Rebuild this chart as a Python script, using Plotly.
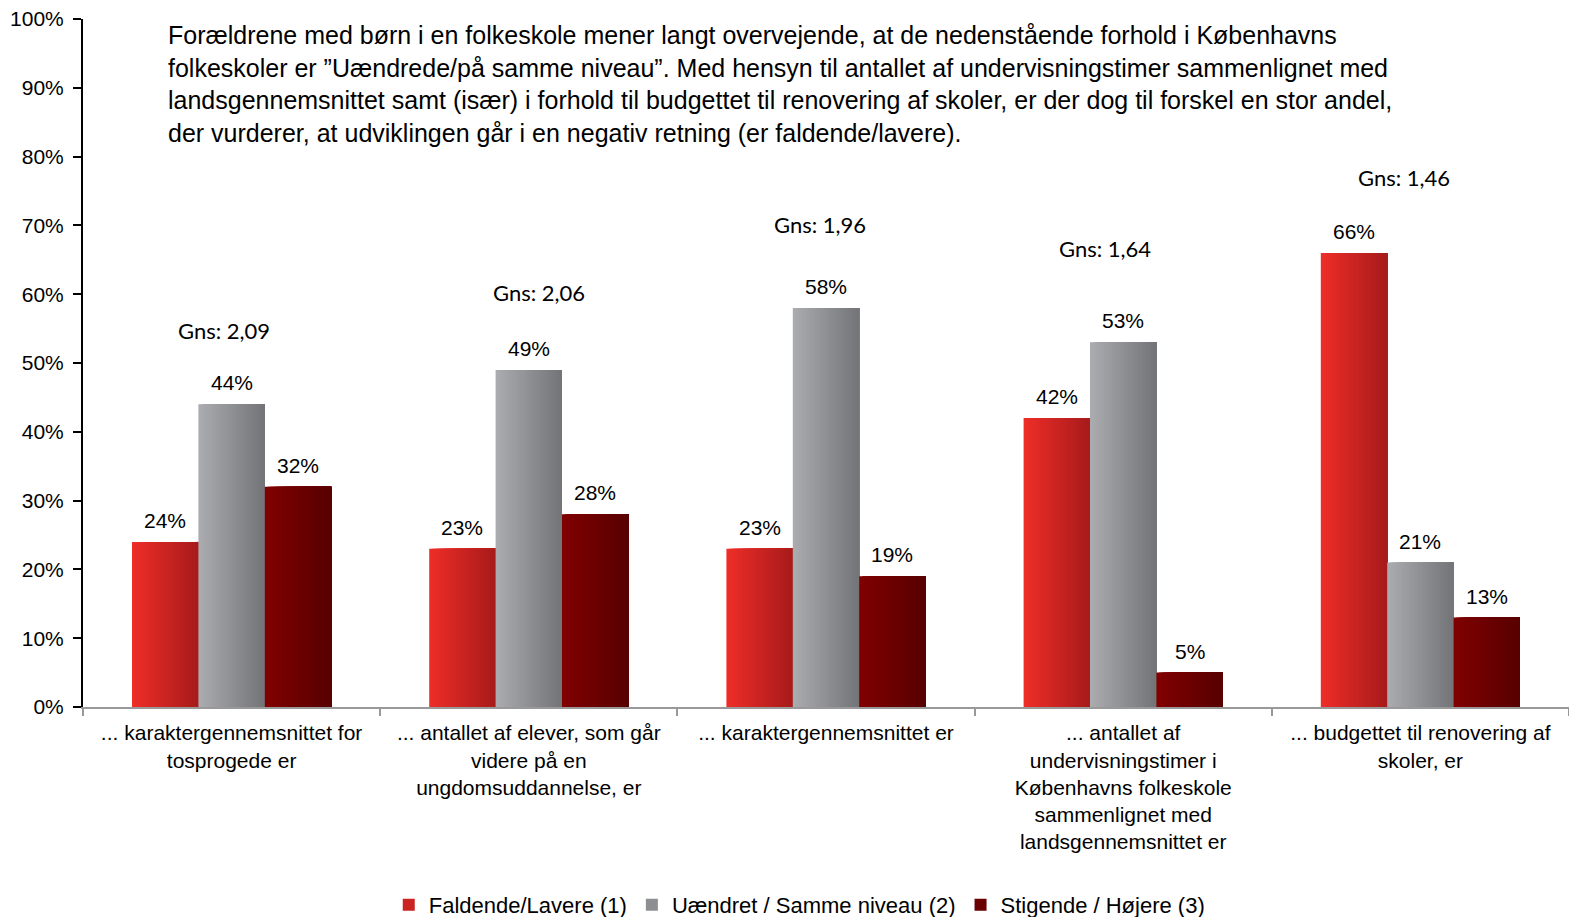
import plotly.graph_objects as go

#%% DATA

categories = [
    "... karaktergennemsnittet for<br>tosprogede er",
    "... antallet af elever, som går<br>videre på en<br>ungdomsuddannelse, er",
    "... karaktergennemsnittet er",
    "... antallet af<br>undervisningstimer i<br>Københavns folkeskole<br>sammenlignet med<br>landsgennemsnittet er",
    "... budgettet til renovering af<br>skoler, er",
]
series_names = ["Faldende/Lavere (1)", "Uændret / Samme niveau (2)", "Stigende / Højere (3)"]
faldende = [24, 23, 23, 42, 66]
uaendret = [44, 49, 58, 53, 21]
stigende = [32, 28, 19, 5, 13]
gns_labels = ["Gns: 2,09", "Gns: 2,06", "Gns: 1,96", "Gns: 1,64", "Gns: 1,46"]
gns_y = [54.7, 60.2, 70.1, 66.7, 76.9]

intro = (
    "Forældrene med børn i en folkeskole mener langt overvejende, at de nedenstående forhold i Københavns<br>"
    "folkeskoler er ”Uændrede/på samme niveau”. Med hensyn til antallet af undervisningstimer sammenlignet med<br>"
    "landsgennemsnittet samt (især) i forhold til budgettet til renovering af skoler, er der dog til forskel en stor andel,<br>"
    "der vurderer, at udviklingen går i en negativ retning (er faldende/lavere)."
)

#%% STYLE

FONT = "Liberation Sans"
# left -> right gradient colours per series
gradients = [
    ((237, 45, 40), (168, 27, 27)),
    ((170, 171, 175), (116, 117, 121)),
    ((128, 0, 0), (88, 0, 0)),
]
bar_w = 0.2234
offsets = [-1.5 * bar_w, -0.5 * bar_w, 0.5 * bar_w]
n_slices = 24
gns_xshift = [-8, 10, -6, -18, -16]


def mix(c0, c1, t):
    return "rgb({},{},{})".format(*[round(a + (b - a) * t) for a, b in zip(c0, c1)])


#%% FIGURE

fig = go.Figure()

for s, (name, vals) in enumerate(zip(series_names, [faldende, uaendret, stigende])):
    c0, c1 = gradients[s]
    step = bar_w / n_slices
    # each slice runs to the right edge, later slices cover earlier ones -> no seams
    for i in range(n_slices):
        t = i / (n_slices - 1)
        fig.add_trace(go.Bar(
            x=categories, y=vals,
            width=bar_w - i * step, offset=offsets[s] + i * step,
            marker=dict(color=mix(c0, c1, t), line=dict(width=0)),
            name=name, legendgroup=name,
            showlegend=(i == n_slices // 2),
            hoverinfo="skip",
        ))
    # value labels above each bar
    for k, v in enumerate(vals):
        fig.add_annotation(
            x=k + offsets[s] + bar_w / 2, y=v, text=f"{v}%",
            showarrow=False, yanchor="bottom", yshift=8,
            font=dict(family=FONT, size=21, color="black"),
        )

for cat, lab, yy, dx in zip(categories, gns_labels, gns_y, gns_xshift):
    fig.add_annotation(
        x=cat, y=yy, text=lab, showarrow=False, xshift=dx,
        font=dict(family="Lato", size=22, color="black"),
    )

fig.add_annotation(
    xref="paper", yref="paper", x=0.056, y=1.0,
    xanchor="left", yanchor="top", align="left",
    text=intro, showarrow=False,
    font=dict(family=FONT, size=25, color="black"),
)

fig.update_layout(
    width=1569, height=909,
    barmode="overlay",
    paper_bgcolor="white", plot_bgcolor="white",
    margin=dict(l=75, r=8, t=11, b=210, autoexpand=False),
    font=dict(family=FONT, size=20, color="black"),
    legend=dict(
        orientation="h", x=0.482, xanchor="center", y=-0.2878, yanchor="middle",
        font=dict(family=FONT, size=22), itemwidth=30,
    ),
    xaxis=dict(
        type="category", showline=True, linecolor="#999999", linewidth=2,
        ticks="outside", tickson="boundaries", ticklen=7, tickcolor="#999999",
        tickwidth=2, showgrid=False, tickfont=dict(size=21), automargin=False,
        ticklabelstandoff=6,
    ),
    yaxis=dict(
        range=[0, 100], dtick=10, ticksuffix="%",
        showline=True, linecolor="black", linewidth=2,
        ticks="outside", ticklen=8, tickcolor="black", tickwidth=2,
        showgrid=False, zeroline=False, tickfont=dict(size=21), automargin=False,
        ticklabelstandoff=5, ticklabeloverflow="allow",
    ),
)

fig.write_html("out.html")
